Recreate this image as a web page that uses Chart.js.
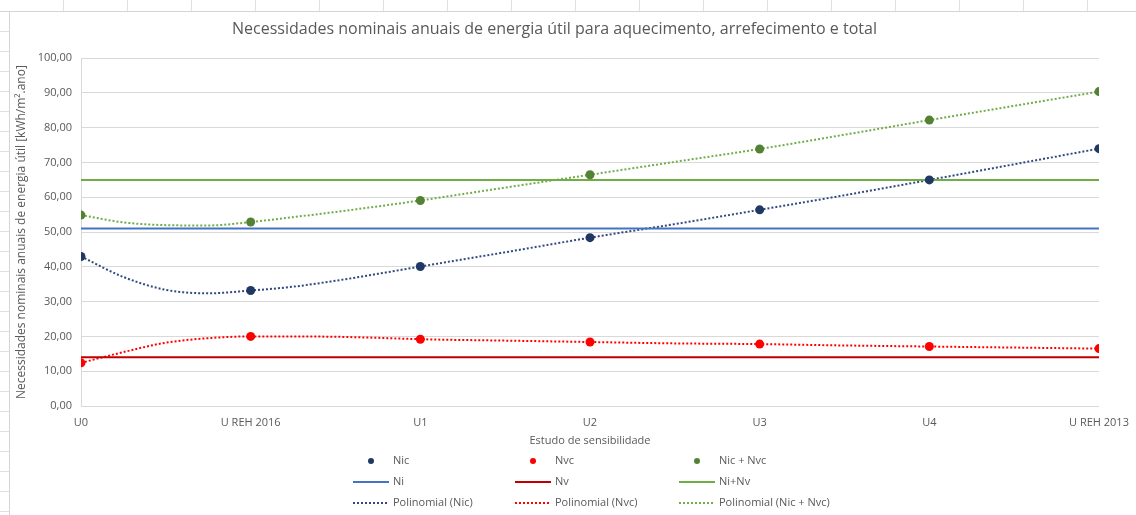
<!DOCTYPE html>
<html>
<head>
<meta charset="utf-8">
<script src="https://cdn.jsdelivr.net/npm/chart.js@4.4.1/dist/chart.umd.min.js"></script>
<style>
  html, body { margin: 0; padding: 0; }
  body {
    width: 1136px; height: 515px; overflow: hidden; position: relative;
    background: #fff;
  }
  #sheetTop {
    position: absolute; left: 0; top: 0; width: 1136px; height: 11px;
    border-bottom: 1px solid #d4d4d4;
    background: repeating-linear-gradient(90deg, transparent 0, transparent 63px, #e0e0e0 63px, #e0e0e0 64px);
  }
  #sheetLeft {
    position: absolute; left: 0; top: 12px; width: 9px; height: 503px;
    border-right: 1px solid #d4d4d4;
    background: repeating-linear-gradient(180deg, transparent 0, transparent 19px, #e0e0e0 19px, #e0e0e0 20px);
  }
  #wrap { position: absolute; left: 10px; top: 12px; width: 1126px; height: 503px; background: #fff; }
</style>
</head>
<body>
<div id="sheetTop"></div>
<div id="sheetLeft"></div>
<div id="wrap"><canvas id="chart" width="1126" height="503"></canvas></div>
<script>
  const categories = ["U0", "U REH 2016", "U1", "U2", "U3", "U4", "U REH 2013"];
  const nic = [43.0, 33.2, 40.1, 48.4, 56.4, 65.0, 74.0];
  const nvc = [12.4, 20.0, 19.2, 18.4, 17.8, 17.1, 16.5];
  const nicNvc = [54.9, 52.9, 59.1, 66.5, 73.9, 82.2, 90.4];

  // reference levels (flat across all studies)
  const ni = [51.0, 51.0];
  const nv = [14.0, 14.0];
  const niNv = [65.0, 65.0];

  // trendlines at these category positions
  const trendPos = [0, 0.25, 0.5, 0.75, 1, 1.25, 1.5, 1.75, 2, 2.5, 3, 3.5, 4, 4.5, 5, 5.5, 6];
  const trendNic = [43.0, 37.1, 33.4, 32.4, 33.2, 34.3, 36.0, 38.0, 40.1, 44.2, 48.4, 52.3, 56.4, 60.6, 65.0, 69.5, 74.0];
  const trendNvc = [12.4, 15.5, 18.2, 19.5, 20.0, 20.0, 19.9, 19.6, 19.2, 18.8, 18.4, 18.0, 17.8, 17.4, 17.1, 16.8, 16.5];
  const trendNicNvc = [54.9, 52.8, 52.0, 51.9, 52.9, 54.3, 55.8, 57.4, 59.1, 62.8, 66.5, 70.2, 73.9, 78.0, 82.2, 86.3, 90.4];

  const textColor = "#595959";
  const fontFamily = "'Open Sans', sans-serif";

  function pointsOf(values) {
    return values.map((v, i) => ({ x: i, y: v }));
  }
  function levelOf(values) {
    return [{ x: 0, y: values[0] }, { x: categories.length - 1, y: values[1] }];
  }
  function trendOf(values) {
    return values.map((v, i) => ({ x: trendPos[i], y: v }));
  }

  function dots(label, values, color) {
    return {
      label: label, kind: "dot", data: pointsOf(values),
      showLine: false, pointRadius: 4.5, pointHoverRadius: 4.5,
      backgroundColor: color, borderColor: color, borderWidth: 0,
    };
  }
  function level(label, values, color) {
    return {
      label: label, kind: "line", data: levelOf(values),
      showLine: true, pointRadius: 0, borderColor: color, borderWidth: 2,
      backgroundColor: color,
    };
  }
  function trend(label, values, color) {
    return {
      label: label, kind: "dash", data: trendOf(values),
      showLine: true, pointRadius: 0, borderColor: color, borderWidth: 2,
      borderDash: [2, 2], cubicInterpolationMode: "monotone", backgroundColor: color,
    };
  }

  // legend drawn as a 3 x 3 grid like the original
  const gridLegend = {
    id: "gridLegend",
    afterDraw(chart) {
      const ctx = chart.ctx;
      const colX = [343, 505, 669];
      const rowY = [449, 470, 491];
      ctx.save();
      ctx.font = "11px " + fontFamily;
      ctx.textBaseline = "middle";
      ctx.fillStyle = textColor;
      chart.data.datasets.forEach((ds, i) => {
        const x = colX[i % 3];
        const y = rowY[Math.floor(i / 3)];
        ctx.save();
        if (ds.kind === "dot") {
          ctx.fillStyle = ds.backgroundColor;
          ctx.beginPath();
          ctx.arc(x + 18, y, 3, 0, Math.PI * 2);
          ctx.fill();
        } else {
          ctx.strokeStyle = ds.borderColor;
          ctx.lineWidth = 2;
          ctx.setLineDash(ds.kind === "dash" ? [2, 2] : []);
          ctx.beginPath();
          ctx.moveTo(x, y);
          ctx.lineTo(x + 36, y);
          ctx.stroke();
        }
        ctx.restore();
        ctx.fillText(ds.label, x + 40, y);
      });
      ctx.restore();
    },
  };

  new Chart(document.getElementById("chart"), {
    type: "scatter",
    data: {
      datasets: [
        dots("Nic", nic, "#203864"),
        dots("Nvc", nvc, "#FF0000"),
        dots("Nic + Nvc", nicNvc, "#548235"),
        level("Ni", ni, "#4472C4"),
        level("Nv", nv, "#C00000"),
        level("Ni+Nv", niNv, "#70AD47"),
        trend("Polinomial (Nic)", trendNic, "#2F4A7E"),
        trend("Polinomial (Nvc)", trendNvc, "#FF0000"),
        trend("Polinomial (Nic + Nvc)", trendNicNvc, "#70AD47"),
      ],
    },
    options: {
      responsive: false,
      animation: false,
      devicePixelRatio: 1,
      layout: { padding: { left: 0, right: 37, top: 0, bottom: 59 } },
      plugins: {
        legend: { display: false },
        tooltip: { enabled: false },
        title: {
          display: true,
          text: "Necessidades nominais anuais de energia útil para aquecimento, arrefecimento e total",
          color: textColor,
          font: { family: fontFamily, size: 16, weight: "normal" },
          padding: { top: 8, bottom: 19 },
        },
      },
      scales: {
        x: {
          type: "linear",
          min: 0,
          max: categories.length - 1,
          afterFit: (s) => { s.height = 50; s.paddingRight = 0; s.paddingLeft = 0; },
          grid: { display: false, drawTicks: false },
          border: { display: false },
          ticks: {
            stepSize: 1,
            autoSkip: false,
            maxRotation: 0,
            padding: 10,
            color: textColor,
            font: { family: fontFamily, size: 11 },
            callback: (v) => categories[v],
          },
          title: {
            display: true,
            text: "Estudo de sensibilidade",
            color: textColor,
            font: { family: fontFamily, size: 11 },
            padding: { top: 0, bottom: 9 },
          },
        },
        y: {
          min: 0,
          max: 100,
          afterFit: (s) => { s.width = 71; },
          grid: { color: "#d9d9d9", drawTicks: false },
          border: { display: true, color: "#d9d9d9" },
          ticks: {
            stepSize: 10,
            padding: 9,
            color: textColor,
            font: { family: fontFamily, size: 11 },
            callback: (v) => v.toFixed(2).replace(".", ","),
          },
          title: {
            display: true,
            text: "Necessidades nominais anuais de energia útil [kWh/m².ano]",
            color: textColor,
            font: { family: fontFamily, size: 12 },
            padding: { top: 4, bottom: 0 },
          },
        },
      },
    },
    plugins: [gridLegend],
  });
</script>
</body>
</html>
